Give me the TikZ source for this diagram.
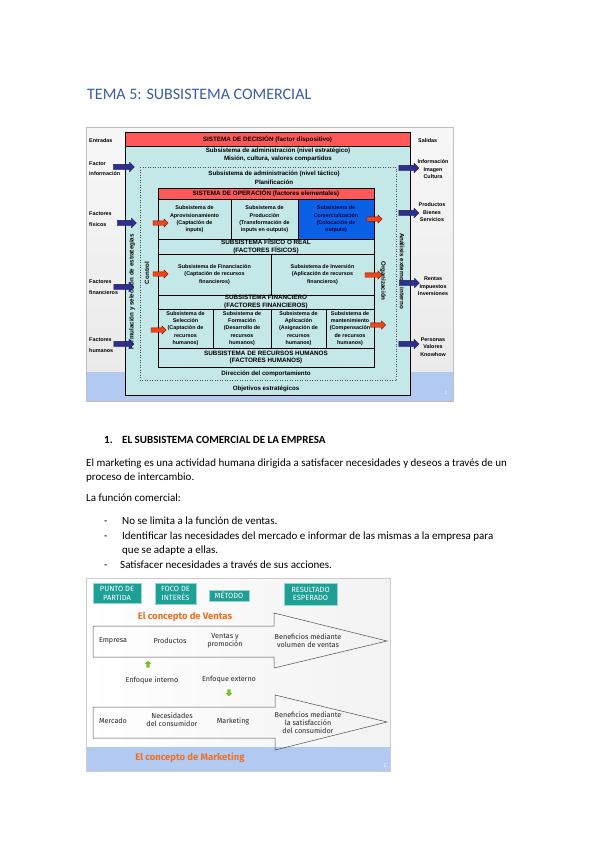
\documentclass[tikz,border=0pt]{standalone}
\usepackage{fontspec}
\setmainfont{Carlito}
\newfontfamily\slidesans{Liberation Sans}
\newfontfamily\slidecomic{Fira Sans}
\usetikzlibrary{shapes.arrows}
\usetikzlibrary{positioning}
\definecolor{titleblue}{RGB}{58,93,166}
\definecolor{boxcyan}{RGB}{196,231,231}
\definecolor{barred}{RGB}{255,88,88}
\definecolor{comblue}{RGB}{12,96,230}
\definecolor{navyarrow}{RGB}{46,46,140}
\definecolor{redarrow}{RGB}{245,68,20}
\definecolor{slidegray}{RGB}{234,234,234}
\definecolor{stripblue}{RGB}{178,202,242}
\definecolor{tealbox}{RGB}{30,160,150}
\definecolor{conceptorange}{RGB}{240,112,32}
\definecolor{leafgreen}{RGB}{122,190,40}
\tikzstyle{cell}=[draw=black, line width=0.7pt, fill=boxcyan, inner sep=0pt, align=center,
    font=\slidesans\bfseries\fontsize{5.4}{7.2}\selectfont]
\tikzstyle{band}=[cell, font=\slidesans\bfseries\fontsize{6.3}{7.6}\selectfont]
\tikzstyle{redbar}=[band, fill=barred]
\tikzstyle{slidetxt}=[inner sep=0pt, align=center, font=\slidesans\bfseries\fontsize{6.2}{8.4}\selectfont]
\tikzstyle{io_in}=[inner sep=0pt, align=left, anchor=west, font=\slidesans\bfseries\fontsize{5.4}{10.5}\selectfont]
\tikzstyle{io_out}=[inner sep=0pt, align=center, font=\slidesans\bfseries\fontsize{5.4}{7.5}\selectfont]
\tikzstyle{arrow_io}=[single arrow, fill=navyarrow, draw=navyarrow!60!black, line width=0.3pt,
    inner xsep=0pt, inner ysep=2.5pt, minimum height=20pt, single arrow head extend=2.2pt]
\tikzstyle{arrow_op}=[single arrow, fill=redarrow, draw=red!45!black, line width=0.3pt,
    inner xsep=0pt, inner ysep=2pt, minimum height=15pt, single arrow head extend=2pt]
\tikzstyle{tag}=[fill=tealbox, draw=tealbox!45!white, line width=0.6pt, text=white, inner sep=0pt,
    align=center, font=\slidecomic\fontsize{7.5}{8.8}\selectfont]
\tikzstyle{concept}=[inner sep=0pt, text=conceptorange, font=\slidecomic\bfseries\fontsize{9.5}{11}\selectfont]
\tikzstyle{stage}=[inner sep=0pt, align=center, text=black!85, font=\slidecomic\fontsize{7.2}{8}\selectfont]
\tikzstyle{green_arrow}=[single arrow, fill=leafgreen, inner sep=1.5pt, minimum height=7pt,
    single arrow head extend=1.6pt]
\tikzstyle{body}=[anchor=base west, inner sep=0pt, font=\fontsize{11}{13}\selectfont]

\begin{document}
\begin{tikzpicture}[x=1pt, y=-1pt]
          \useasboundingbox (0,0) rectangle (599,848);
          \fill[white] (0,0) rectangle (599,848);

          % page text
          \node[anchor=base west, inner sep=0pt, text=titleblue, font=\fontsize{16}{19}\selectfont] (title) at (87,100) {TEMA 5: SUBSISTEMA COMERCIAL};
          \node[body, font=\bfseries\fontsize{11}{13}\selectfont] (num) at (104,443.5) {1.};
          \node[body, font=\bfseries\fontsize{11}{13}\selectfont] (head) at (122,443.5) {EL SUBSISTEMA COMERCIAL DE LA EMPRESA};
          \node[body] (par1) at (86,466.5) {El marketing es una actividad humana dirigida a satisfacer necesidades y deseos a través de un};
          \node[body] (par2) at (86,480.5) {proceso de intercambio.};
          \node[body] (par3) at (86,501.5) {La función comercial:};
          \node[body] (dash1) at (104,524.5) {-};
          \node[body] (item1) at (122,524.5) {No se limita a la función de ventas.};
          \node[body] (dash2) at (104,539.5) {-};
          \node[body] (item2) at (122,539.5) {Identificar las necesidades del mercado e informar de las mismas a la empresa para};
          \node[body] (item2b) at (122,553.5) {que se adapte a ellas.};
          \node[body] (dash3) at (104,568.5) {-};
          \node[body] (item3) at (120,568.5) {Satisfacer necesidades a través de sus acciones.};

          % first slide
          \shade[top color=gray!6, bottom color=slidegray] (86,127) rectangle (453,372);
          \fill[stripblue] (86,372) rectangle (453,401);
          \draw[gray!50, line width=0.4pt] (86,127) rectangle (453,401);
          \node[draw=black, line width=0.8pt, fill=boxcyan, minimum width=285pt, minimum height=263pt, inner sep=0pt] (sys) at (267.5,263.5) {};
          \node[redbar, minimum width=285pt, minimum height=14pt] (sd) at (267.5,139) {SISTEMA DE DECISIÓN (factor dispositivo)};
          \node[slidetxt] (strat) at (278,155) {Subsistema de administración (nivel estratégico)\\Misión, cultura, valores compartidos};
          \draw[dotted, black!70, line width=0.5pt] (140,167) rectangle (396,380);
          \node[slidetxt, font=\slidesans\bfseries\fontsize{6.2}{9}\selectfont] (tact) at (274,177.5) {Subsistema de administración (nivel táctico)\\Planificación};
          \node[redbar, minimum width=216pt, minimum height=11.5pt] (so) at (266,193.75) {SISTEMA DE OPERACIÓN (factores elementales)};
          \node[cell, minimum width=73pt, minimum height=39.5pt] (apr) at (194.5,219.25) {Subsistema de\\Aprovisionamiento\\(Captación de\\inputs)};
          \node[cell, minimum width=67pt, minimum height=39.5pt] (pro) at (264.5,219.25) {Subsistema de\\Producción\\(Transformación de\\inputs en outputs)};
          \node[cell, fill=comblue, text=blue!25!black, minimum width=76pt, minimum height=39.5pt] (com) at (336,219.25) {Subsistema de\\Comercialización\\(Colocación de\\outputs)};
          \node[band, minimum width=216pt, minimum height=15pt] (fis) at (266,246.5) {SUBSISTEMA FÍSICO O REAL\\(FACTORES FÍSICOS)};
          \node[cell, minimum width=113pt, minimum height=41pt] (fin) at (214.5,274.5) {Subsistema de Financiación\\(Captación de recursos\\financieros)};
          \node[cell, minimum width=103pt, minimum height=41pt] (inv) at (322.5,274.5) {Subsistema de Inversión\\(Aplicación de recursos\\financieros)};
          \node[band, minimum width=216pt, minimum height=14pt] (sfin) at (266,302) {SUBSISTEMA FINANCIERO\\(FACTORES FINANCIEROS)};
          \node[cell, minimum width=55pt, minimum height=39pt] (sel) at (185.5,328.5) {Subsistema de\\Selección\\(Captación de\\recursos\\humanos)};
          \node[cell, minimum width=58pt, minimum height=39pt] (form) at (242,328.5) {Subsistema de\\Formación\\(Desarrollo de\\recursos\\humanos)};
          \node[cell, minimum width=55pt, minimum height=39pt] (apl) at (298.5,328.5) {Subsistema de\\Aplicación\\(Asignación de\\recursos\\humanos)};
          \node[cell, minimum width=48pt, minimum height=39pt] (man) at (350,328.5) {Subsistema de\\mantenimiento\\(Compensación\\de recursos\\humanos)};
          \node[band, minimum width=216pt, minimum height=19pt] (srh) at (266,357.5) {SUBSISTEMA DE RECURSOS HUMANOS\\(FACTORES HUMANOS)};
          \node[slidetxt] (dir) at (266,374) {Dirección del comportamiento};
          \node[slidetxt] (obj) at (266,389) {Objetivos estratégicos};
          \node[slidetxt, rotate=90] (estr) at (132,292) {Formulación y selección de estrategias};
          \node[slidetxt, rotate=90] (ctrl) at (147,273) {Control};
          \node[slidetxt, rotate=-90] (org) at (383,281) {Organización};
          \node[slidetxt, rotate=-90] (anal) at (402,271) {Análisis externo e interno};

          % entradas y salidas
          \node[io_in] (ent) at (89,141) {Entradas};
          \node[io_in] (e1) at (89,168.5) {Factor\\información};
          \node[io_in] (e2) at (89,219) {Factores\\físicos};
          \node[io_in] (e3) at (89,287) {Factores\\financieros};
          \node[io_in] (e4) at (89,345) {Factores\\humanos};
          \node[io_in] (sal) at (418,141) {Salidas};
          \node[io_out] (s1) at (433,169.5) {Información\\Imagen\\Cultura};
          \node[io_out] (s2) at (432,212.5) {Productos\\Bienes\\Servicios};
          \node[io_out] (s3) at (433,286.5) {Rentas\\Impuestos\\Inversiones};
          \node[io_out] (s4) at (433,347) {Personas\\Valores\\Knowhow};
          \node[arrow_io, minimum height=21pt] (a1) at (122.5,167) {};
          \node[arrow_io, minimum height=19pt] (a2) at (125.5,223) {};
          \node[arrow_io] (a3) at (122.5,287) {};
          \node[arrow_io] (a4) at (122.5,344) {};
          \node[arrow_io] (b1) at (407.5,168) {};
          \node[arrow_io] (b2) at (407.5,213) {};
          \node[arrow_io] (b3) at (408,283) {};
          \node[arrow_io] (b4) at (407.5,344) {};
          \node[arrow_op] (r1) at (159.5,223) {};
          \node[arrow_op] (r2) at (373.5,219) {};
          \node[arrow_op] (r3) at (159.5,274) {};
          \node[arrow_op, minimum height=17pt] (r4) at (372.5,275) {};
          \node[arrow_op] (r5) at (157.5,330) {};
          \node[arrow_op] (r6) at (377,325) {};
          \node[inner sep=0pt, text=white, font=\slidesans\fontsize{5}{6}\selectfont] (pg1) at (446,393) {2};

          % second slide
          \shade[left color=white, right color=gray!10] (86,578) rectangle (390,747);
          \fill[stripblue] (86,747) rectangle (390,771);
          \draw[gray!40, line width=0.4pt] (86,578) rectangle (390,771);
          \node[tag, minimum width=48pt, minimum height=20pt] (tag1) at (117,593) {PUNTO DE\\PARTIDA};
          \node[tag, minimum width=41pt, minimum height=21pt] (tag2) at (175.5,593.5) {FOCO DE\\INTERÉS};
          \node[tag, minimum width=40pt, minimum height=11pt] (tag3) at (229,595.5) {MÉTODO};
          \node[tag, minimum width=53pt, minimum height=22pt] (tag4) at (310.5,594) {RESULTADO\\ESPERADO};
          \node[concept] (ventas) at (185,617) {El concepto de Ventas};
          \draw[black!70, line width=0.5pt] (93,626) -- (274,626) -- (274,613) -- (387,641)
              -- (274,668) -- (274,657) -- (93,657) -- cycle;
          \node[stage] (v1) at (113,641) {Empresa};
          \node[stage] (v2) at (170,641) {Productos};
          \node[stage] (v3) at (225,640.5) {Ventas y\\promoción};
          \node[stage] (v4) at (308,641) {Beneficios mediante\\volumen de ventas};
          \node[green_arrow, shape border rotate=90] (up) at (148,665) {};
          \node[stage] (eint) at (152,680) {Enfoque interno};
          \node[stage] (eext) at (229,680) {Enfoque externo};
          \node[green_arrow, shape border rotate=270] (down) at (229,692) {};
          \draw[black!70, line width=0.5pt] (93,707) -- (275,707) -- (275,695) -- (387,722)
              -- (275,750) -- (275,738) -- (93,738) -- cycle;
          \node[stage] (m1) at (113,721) {Mercado};
          \node[stage] (m2) at (172,719.5) {Necesidades\\del consumidor};
          \node[stage] (m3) at (233,721) {Marketing};
          \node[stage] (m4) at (308,722.5) {Beneficios mediante\\la satisfacción\\del consumidor};
          \node[concept] (mkt) at (190,758) {El concepto de Marketing};
          \node[inner sep=0pt, text=white, font=\slidesans\fontsize{5}{6}\selectfont] (pg2) at (385,766) {2};
        \end{tikzpicture}
\end{document}
